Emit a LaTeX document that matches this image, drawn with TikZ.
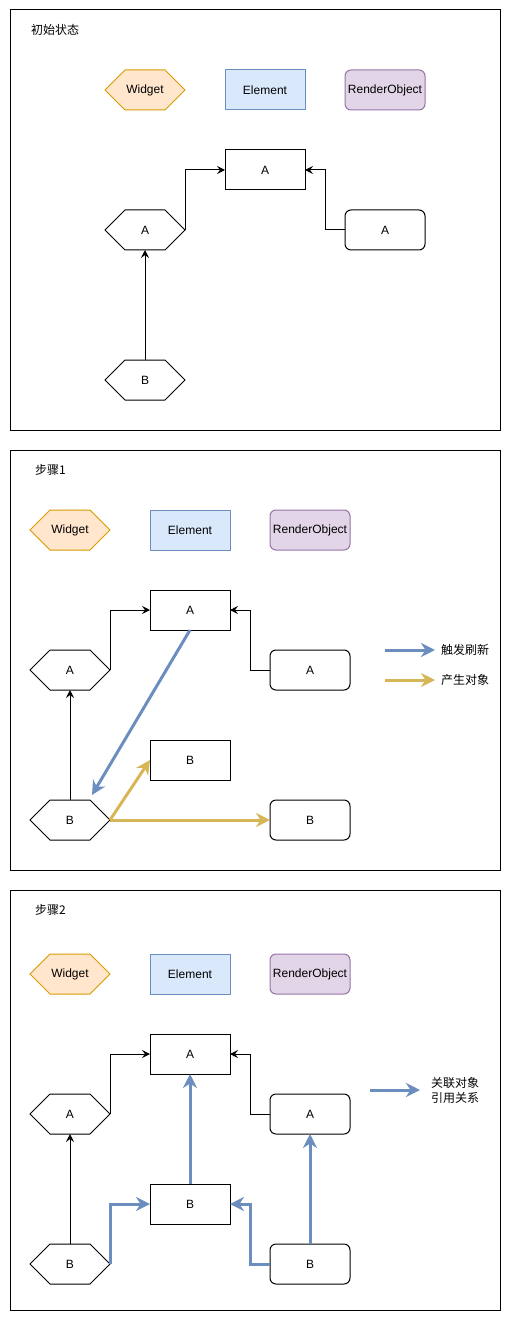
\documentclass[tikz,border=0pt]{standalone}
\usepackage{fontspec}
\setmainfont{Liberation Sans}
\newfontfamily\cjk{Noto Sans CJK SC}
\usetikzlibrary{arrows.meta}
\pgfdeclarelayer{background}
\pgfsetlayers{background,main}
\definecolor{wfill}{HTML}{FFE6CC}
\definecolor{wline}{HTML}{D79B00}
\definecolor{efill}{HTML}{DAE8FC}
\definecolor{eline}{HTML}{6C8EBF}
\definecolor{rfill}{HTML}{E1D5E7}
\definecolor{rline}{HTML}{9673A6}
\definecolor{yline}{HTML}{D6B656}
\newcommand\hexshape[2]{\begin{pgfonlayer}{background}\draw[line width=1pt,#2] (#1.west) -- ([xshift=20pt]#1.north west) -- ([xshift=-20pt]#1.north east) -- (#1.east) -- ([xshift=-20pt]#1.south east) -- ([xshift=20pt]#1.south west) -- cycle;\end{pgfonlayer}}
\tikzset{
  base/.style={minimum width=80pt,minimum height=40pt,inner sep=0pt,outer sep=0pt,font=\fontsize{12}{14}\selectfont,text=black},
  hexnode/.style={base},
  elem/.style={base,draw=black,line width=1pt},
  elemleg/.style={base,draw=eline,fill=efill,line width=1pt},
  rend/.style={base,draw=black,line width=1pt,rounded corners=6pt},
  rendleg/.style={base,draw=rline,fill=rfill,line width=1pt,rounded corners=6pt},
  frame/.style={draw=black,line width=1pt,minimum width=490pt,minimum height=420pt,inner sep=0pt,outer sep=0pt},
  title/.style={anchor=west,inner sep=0pt,font=\cjk\fontsize{12}{14}\selectfont},
  leg/.style={anchor=west,inner sep=0pt,align=left,font=\cjk\fontsize{12}{15}\selectfont},
  thin/.style={draw=black,line width=1pt,-{Stealth[length=8pt,width=8pt,inset=3pt]}},
  thick/.style={line width=3pt,-{Stealth[length=14pt,width=14pt,inset=4.5pt]}},
  blue/.style={thick,draw=eline},
  gold/.style={thick,draw=yline},
}
\begin{document}
\begin{tikzpicture}[x=1pt,y=-1pt]
\useasboundingbox (0,0) rectangle (511,1321);
% ---------- panel 1 ----------
\node[frame] (p1) at (255,220) {};
\node[title] (t1) at (31,30) {初始状态};
\node[hexnode] (lw1) at (145,90) {Widget};
\hexshape{lw1}{draw=wline,fill=wfill}
\node[elemleg] (le1) at (265,90) {Element};
\node[rendleg] (lr1) at (385,90) {RenderObject};
\node[elem] (ea1) at (265,170) {A};
\node[hexnode] (wa1) at (145,230) {A};
\hexshape{wa1}{draw=black,fill=white}
\node[rend] (ra1) at (385,230) {A};
\node[hexnode] (wb1) at (145,380) {B};
\hexshape{wb1}{draw=black,fill=white}
\draw[thin] (wa1.east) |- (ea1.west);
\draw[thin] (ra1.west) -- ++(-20,0) |- (ea1.east);
\draw[thin] (wb1.north) -- (wa1.south);
% ---------- panel 2 ----------
\node[frame] (p2) at (255,660) {};
\node[title] (t2) at (35,470) {步骤1};
\node[hexnode] (lw2) at (70,530) {Widget};
\hexshape{lw2}{draw=wline,fill=wfill}
\node[elemleg] (le2) at (190,530) {Element};
\node[rendleg] (lr2) at (310,530) {RenderObject};
\node[elem] (ea2) at (190,610) {A};
\node[hexnode] (wa2) at (70,670) {A};
\hexshape{wa2}{draw=black,fill=white}
\node[rend] (ra2) at (310,670) {A};
\node[elem] (eb2) at (190,760) {B};
\node[hexnode] (wb2) at (70,820) {B};
\hexshape{wb2}{draw=black,fill=white}
\node[rend] (rb2) at (310,820) {B};
\draw[thin] (wa2.east) |- (ea2.west);
\draw[thin] (ra2.west) -- ++(-20,0) |- (ea2.east);
\draw[thin] (wb2.north) -- (wa2.south);
\coordinate (bt2) at (92,795);
\draw[blue] (ea2.south) -- (bt2);
\draw[gold] (wb2.east) -- (eb2.west);
\draw[gold] (wb2.east) -- (rb2.west);
\coordinate (l1a) at (385,650);
\coordinate (l1b) at (435,650);
\coordinate (l2a) at (385,680);
\coordinate (l2b) at (435,680);
\draw[blue] (l1a) -- (l1b);
\draw[gold] (l2a) -- (l2b);
\node[leg] (lt1) at (441,650) {触发刷新};
\node[leg] (lt2) at (441,680) {产生对象};
% ---------- panel 3 ----------
\node[frame] (p3) at (255,1100) {};
\node[title] (t3) at (35,910) {步骤2};
\node[hexnode] (lw3) at (70,974) {Widget};
\hexshape{lw3}{draw=wline,fill=wfill}
\node[elemleg] (le3) at (190,974) {Element};
\node[rendleg] (lr3) at (310,974) {RenderObject};
\node[elem] (ea3) at (190,1054) {A};
\node[hexnode] (wa3) at (70,1114) {A};
\hexshape{wa3}{draw=black,fill=white}
\node[rend] (ra3) at (310,1114) {A};
\node[elem] (eb3) at (190,1204) {B};
\node[hexnode] (wb3) at (70,1264) {B};
\hexshape{wb3}{draw=black,fill=white}
\node[rend] (rb3) at (310,1264) {B};
\draw[thin] (wa3.east) |- (ea3.west);
\draw[thin] (ra3.west) -- ++(-20,0) |- (ea3.east);
\draw[thin] (wb3.north) -- (wa3.south);
\draw[blue] (eb3.north) -- (ea3.south);
\draw[blue] (wb3.east) |- (eb3.west);
\draw[blue] (rb3.west) -- ++(-20,0) |- (eb3.east);
\draw[blue] (rb3.north) -- (ra3.south);
\coordinate (l3a) at (370,1090);
\coordinate (l3b) at (420,1090);
\draw[blue] (l3a) -- (l3b);
\node[leg] (lt3) at (431,1090) {关联对象\\引用关系};
\end{tikzpicture}
\end{document}
